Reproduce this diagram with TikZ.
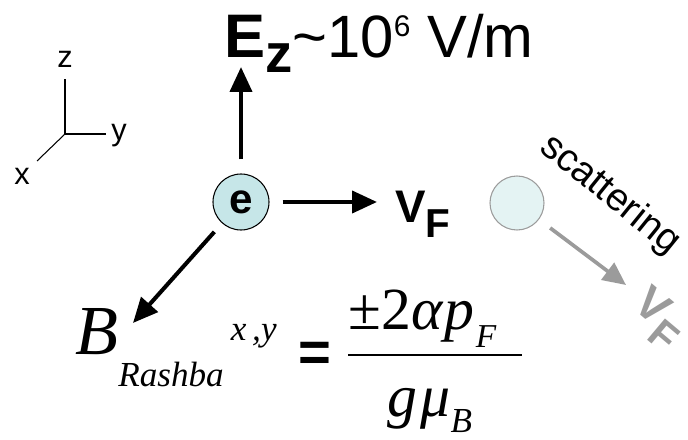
\documentclass[tikz,border=0pt]{standalone}
\usepackage{fontspec}
\setmainfont{Liberation Sans}
\newfontfamily\timesfont{Liberation Serif}
\usepackage{tikz}
\usetikzlibrary{arrows.meta}
\definecolor{ecyan}{RGB}{198, 230, 232}
\definecolor{ecyanpale}{RGB}{228, 243, 243}
\definecolor{scatgray}{RGB}{155, 155, 155}

\newcommand{\fs}[1]{\fontsize{#1}{#1}\selectfont}

\begin{document}
\begin{tikzpicture}[
    bigarrow/.style={line width=2.3pt, -{Triangle[length=0.5cm,width=0.44cm]}},
    grayarrow/.style={scatgray, line width=2.1pt, -{Triangle[length=0.46cm,width=0.42cm]}},
    axlabel/.style={anchor=base, inner sep=0, font=\fs{17.5}}
  ]
    \useasboundingbox (0,0) rectangle (13.76,8.8);

    %% coordinate axes
    \coordinate (o) at (1.30,6.12);
    \draw[line width=0.6pt] (o) -- (1.30,7.22);
    \draw[line width=0.6pt] (o) -- (2.12,6.12);
    \draw[line width=0.6pt] (o) -- (0.74,5.58);
    \node[axlabel] (zlab) at (1.30,7.44) {z};
    \node[axlabel, anchor=base west] (ylab) at (2.22,5.98) {y};
    \node[axlabel] (xlab) at (0.44,5.10) {x};

    %% electron
    \node[circle, draw, line width=0.6pt, fill=ecyan, minimum size=1.12cm,
          inner sep=0, font=\bfseries\fs{24}] (e) at (4.82,4.76) {e};

    \node[anchor=base west, inner sep=0] (ez) at (4.48,7.64)
      {{\bfseries\fs{35}E\raisebox{-8pt}{\fs{31}z}}{\fs{34}\textasciitilde10\raisebox{12pt}{\fs{17}6} V/m}};
    \coordinate (eztip) at (4.82,7.46);
    \draw[bigarrow, shorten <=0.28cm] (e) -- (eztip);

    \node[anchor=base west, inner sep=0, font=\bfseries] (vf) at (7.90,4.34)
      {\fs{26}V\raisebox{-8pt}{\fs{23}F}};
    \coordinate (vftip) at (7.54,4.76);
    \draw[bigarrow, shorten <=0.26cm] (e) -- (vftip);

    \coordinate (btip) at (2.66,2.34);
    \draw[bigarrow, shorten <=0.23cm] (e) -- (btip);

    %% scattered electron
    \node[circle, draw=scatgray, line width=0.6pt, fill=ecyanpale,
          minimum size=1.08cm, inner sep=0] (e2) at (10.34,4.74) {};
    \coordinate (stip) at (12.52,3.10);
    \draw[grayarrow, shorten <=0.28cm] (e2) -- (stip);
    \node[rotate=-39, inner sep=0, font=\fs{22}] (scat) at (12.20,4.90) {scattering};
    \node[rotate=-40, inner sep=0, text=scatgray, font=\bfseries] (vf2) at (13.16,2.42)
      {\fs{26}V\raisebox{-8pt}{\fs{23}F}};

    %% Rashba field
    \node[anchor=base east, inner sep=0, font=\timesfont\itshape] (brash) at (5.54,1.70)
      {\fs{40}B\raisebox{-18pt}{\fs{20}Rashba}\hspace{4pt}\raisebox{8.5pt}{\fs{20}x\,,y}};
    \node[inner sep=0, font=\bfseries\fs{32}] (eq) at (6.30,1.66) {=};
    \node[anchor=base west, inner sep=0, font=\timesfont] (num) at (6.96,2.20)
      {\fs{34}±2\itshape α\kern1pt p\kern1pt\raisebox{-10pt}{\fs{19}F}};
    \draw[line width=1.1pt] (6.96,1.70) -- (10.44,1.70);
    \node[anchor=base west, inner sep=0, font=\timesfont\itshape] (den) at (7.74,0.46)
      {\fs{34}g\kern2pt μ\raisebox{-9pt}{\fs{20}B}};
\end{tikzpicture}
\end{document}
